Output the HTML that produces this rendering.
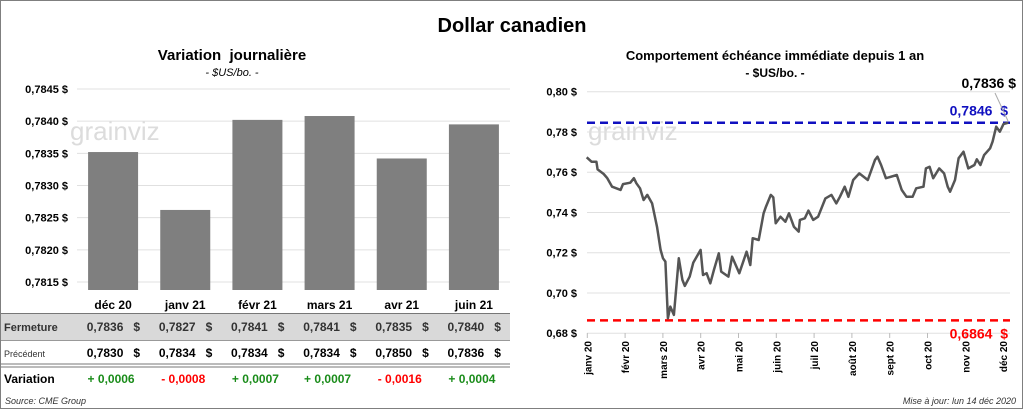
<!DOCTYPE html>
<html><head><meta charset="utf-8"><style>
body{margin:0;background:#fff;font-family:"Liberation Sans",sans-serif}
svg text{font-family:"Liberation Sans",sans-serif;white-space:pre}
</style></head><body>
<svg id="c" width="1024" height="410" viewBox="0 0 1024 410" xmlns="http://www.w3.org/2000/svg">
<rect x="0.5" y="0.5" width="1022" height="408" fill="#fff" stroke="#7f7f7f"/>
<text x="512" y="32" text-anchor="middle" font-size="20" font-weight="bold">Dollar canadien</text>
<text x="232" y="60" text-anchor="middle" font-size="15" font-weight="bold">Variation  journalière</text>
<text x="232" y="76" text-anchor="middle" font-size="11" font-style="italic">- $US/bo. -</text>
<text x="775" y="60" text-anchor="middle" font-size="13" font-weight="bold">Comportement échéance immédiate depuis 1 an</text>
<text x="775" y="77" text-anchor="middle" font-size="12" font-weight="bold">- $US/bo. -</text>
<text x="70" y="140" font-size="26" fill="#dcdcdc">grainviz</text>
<text x="588" y="140" font-size="26" fill="#dcdcdc">grainviz</text>
<g id="left"></g><g id="right"></g><g id="table"></g>
<text x="5" y="404" font-size="9" font-style="italic" fill="#333">Source: CME Group</text>
<text x="1016" y="404" text-anchor="end" font-size="9" font-style="italic" fill="#333">Mise à jour: lun 14 déc 2020</text>
</svg>
<script>
const barCats=["déc 20","janv 21","févr 21","mars 21","avr 21","juin 21"];
const barVals=[0.78352,0.78262,0.78402,0.78408,0.78342,0.78395];
const barTicks=[0.7815,0.7820,0.7825,0.7830,0.7835,0.7840,0.7845];
const closeVals=["0,7836","0,7827","0,7841","0,7841","0,7835","0,7840"];
const prevVals=["0,7830","0,7834","0,7834","0,7834","0,7850","0,7836"];
const varVals=["+ 0,0006","- 0,0008","+ 0,0007","+ 0,0007","- 0,0016","+ 0,0004"];
const lineDays=[0,4,8,9,14,17,21,28,30,36,39,41,44,47,50,54,58,61,63,65,67,69,72,76,79,81,85,88,94,96,99,102,105,109,111,117,120,126,132,135,137,142,146,148,152,154,156,160,164,167,171,175,176,180,183,187,191,197,202,206,209,213,216,220,225,232,238,240,243,247,256,260,264,269,272,278,280,283,286,291,295,298,300,304,307,311,315,320,322,325,328,333,335,338,341,344,348];
const lineVals=[0.7674,0.7652,0.7652,0.7614,0.7591,0.7570,0.7528,0.7512,0.7541,0.7548,0.7570,0.7545,0.7520,0.7462,0.7487,0.7445,0.7329,0.7214,0.7172,0.7156,0.6874,0.6932,0.6891,0.7172,0.7065,0.7035,0.7081,0.7151,0.7214,0.7089,0.7098,0.7048,0.7114,0.7197,0.7106,0.7081,0.7180,0.7098,0.7205,0.7139,0.7272,0.7263,0.7396,0.7429,0.7487,0.7475,0.7346,0.7379,0.7354,0.7396,0.7329,0.7305,0.7363,0.7371,0.7409,0.7363,0.7379,0.7470,0.7487,0.7445,0.7478,0.7528,0.7478,0.7561,0.7594,0.7561,0.7661,0.7677,0.7636,0.7570,0.7586,0.7512,0.7478,0.7478,0.7520,0.7528,0.7619,0.7627,0.7570,0.7619,0.7594,0.7528,0.7503,0.7561,0.7669,0.7702,0.7619,0.7636,0.7664,0.7636,0.7685,0.7719,0.7752,0.7826,0.7801,0.7839,0.7846];
const lineTicks=[0.68,0.70,0.72,0.74,0.76,0.78,0.80];
const monthLabels=["janv 20","févr 20","mars 20","avr 20","mai 20","juin 20","juil 20","août 20","sept 20","oct 20","nov 20","déc 20"];
const highVal=0.7846, lowVal=0.6864, lastVal=0.7836;
const NS="http://www.w3.org/2000/svg";
function mk(p,t,a,txt){const e=document.createElementNS(NS,t);for(const k in a)e.setAttribute(k,a[k]);if(txt!==undefined)e.textContent=txt;p.appendChild(e);return e;}
const fmt=(v,d)=>v.toFixed(d).replace('.',',')+' $';
const L=document.getElementById('left');
const ly=v=>89+(0.7845-v)/0.0030*193;
const lx=i=>77+(i+0.5)*(433/6);
barTicks.forEach(t=>{
 const g=mk(L,'line',{x1:77,x2:510,y1:ly(t),y2:ly(t),stroke:'#e0e0e0'});
 
 const tx=mk(L,'text',{x:68,y:ly(t)+4,'text-anchor':'end','font-size':11,'font-weight':'bold'},fmt(t,4));
 
});
barVals.forEach((v,i)=>{
 const r=mk(L,'rect',{x:lx(i)-25,y:ly(v),width:50,height:ly(0.7815)-ly(v)+8,fill:'#7f7f7f'});
 
});
const T=document.getElementById('table');
const tr=mk(T,'rect',{x:1,y:314,width:509,height:26,fill:'#d9d9d9'});

[[313.5,'#777'],[340.5,'#999'],[364,'#777'],[367,'#777']].forEach(([y,c])=>{const l=mk(T,'line',{x1:1,x2:510,y1:y,y2:y,stroke:c});});
const t1=mk(T,'text',{x:4,y:331,'font-size':11,'font-weight':'bold',fill:'#333'},'Fermeture');
const t2=mk(T,'text',{x:4,y:357,'font-size':9,fill:'#333'},'Précédent');
const t3=mk(T,'text',{x:4,y:383,'font-size':12,'font-weight':'bold'},'Variation');
barCats.forEach((c,i)=>{
 const x=lx(i);
 const h=mk(T,'text',{x:x,y:309,'text-anchor':'middle','font-size':12,'font-weight':'bold'},c);
 
 const a=mk(T,'text',{x:x+27,y:331,'text-anchor':'end','font-size':12,'font-weight':'bold',fill:'#333'},closeVals[i]+'   $');
 
 const b=mk(T,'text',{x:x+27,y:357,'text-anchor':'end','font-size':12,'font-weight':'bold'},prevVals[i]+'   $');
 
 const d=mk(T,'text',{x:x-2,y:383,'text-anchor':'middle','font-size':12,'font-weight':'bold',fill:varVals[i][0]=='-'?'#ff0000':'#1a8c1a'},varVals[i]);
 
});
const R=document.getElementById('right');
const ry=v=>91.7+(0.80-v)/0.12*241.5;
const rx=d=>586.7+d/348*421.6;
lineTicks.forEach(t=>{
 const g=mk(R,'line',{x1:587,x2:1010,y1:ry(t),y2:ry(t),stroke:'#e0e0e0'});
 
 const tx=mk(R,'text',{x:577,y:ry(t)+4,'text-anchor':'end','font-size':11,'font-weight':'bold'},fmt(t,2));
 
});
monthLabels.forEach((m,i)=>{
 const x=587.3+i*37.8;
 const tk=mk(R,'line',{x1:x,x2:x,y1:333,y2:338,stroke:'#bbb'});
 
 const tx=mk(R,'text',{x:0,y:0,'text-anchor':'end','font-size':10,'font-weight':'bold',transform:`translate(${x+4},341) rotate(-90)`},m);
 
});
const hl=mk(R,'line',{x1:587,x2:1010,y1:ry(highVal),y2:ry(highVal),stroke:'#1010c0','stroke-width':2.5,'stroke-dasharray':'8,5'});

const ll=mk(R,'line',{x1:587,x2:1010,y1:ry(lowVal),y2:ry(lowVal),stroke:'#ff0000','stroke-width':2.5,'stroke-dasharray':'8,5'});

const pts=lineDays.map((d,i)=>rx(d).toFixed(1)+','+ry(lineVals[i]).toFixed(1)).join(' ');
const pl=mk(R,'polyline',{points:pts,fill:'none',stroke:'#555','stroke-width':2.5,'stroke-linejoin':'round'});

const hv=mk(R,'text',{x:1008,y:ry(highVal)-7,'text-anchor':'end','font-size':14,'font-weight':'bold',fill:'#1010c0'},fmt(highVal,4).replace(' $','  $'));

const lv=mk(R,'text',{x:1008,y:ry(lowVal)+18,'text-anchor':'end','font-size':14,'font-weight':'bold',fill:'#ff0000'},fmt(lowVal,4).replace(' $','  $'));

const la=mk(R,'text',{x:1016,y:88,'text-anchor':'end','font-size':14,'font-weight':'bold'},fmt(lastVal,4));

const cl=mk(R,'line',{x1:995,y1:93,x2:1008,y2:121,stroke:'#aaa'});

</script>
</body></html>
